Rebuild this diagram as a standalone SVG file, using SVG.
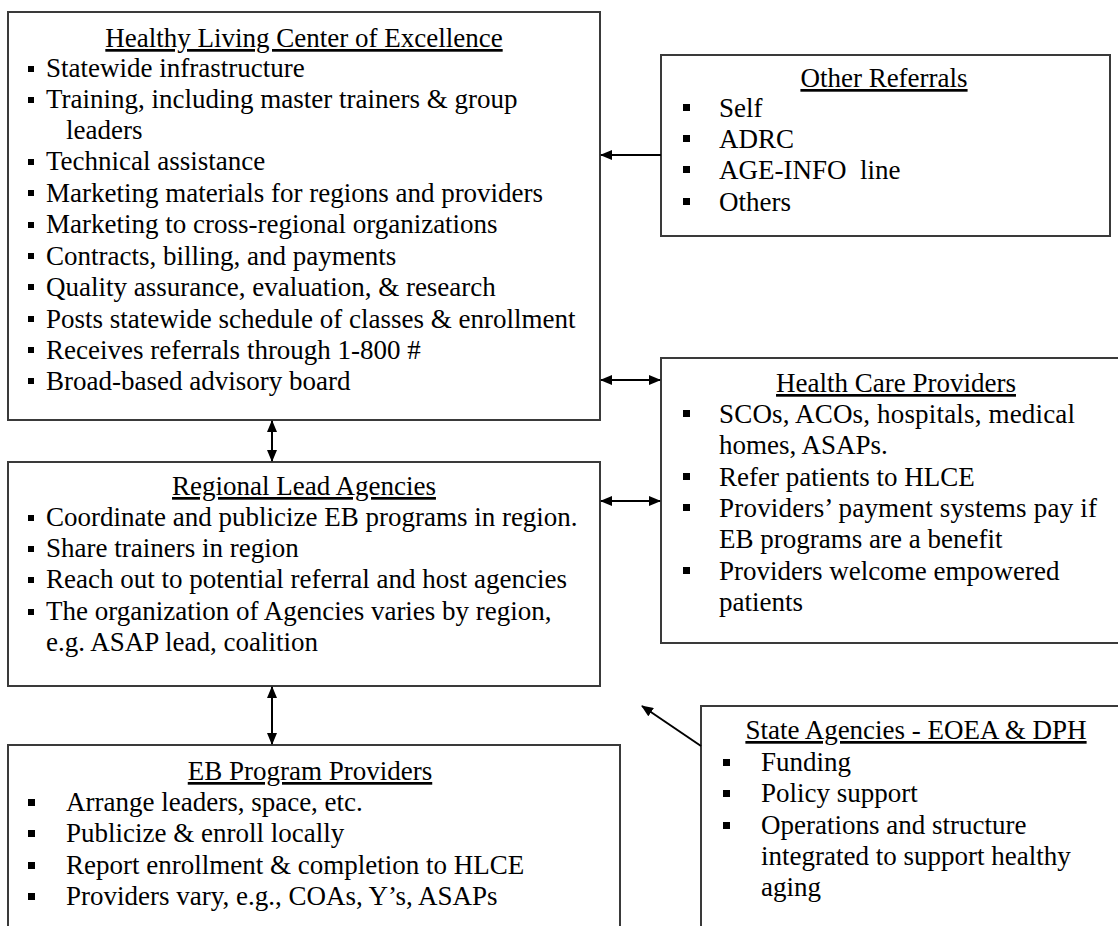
<svg xmlns="http://www.w3.org/2000/svg" width="1118" height="926" viewBox="0 0 1118 926">
<style>
.box{fill:#fff;stroke:#3a3a3a;stroke-width:2}
text{font-family:"Liberation Serif","Times New Roman",serif;font-size:27px;fill:#000}
.title{text-anchor:middle;text-decoration:underline}
.b{fill:#000}
.con{stroke:#000;stroke-width:2;fill:none}
</style>
<defs>
<marker id="ah" viewBox="0 0 12 10" refX="11" refY="5" markerWidth="12" markerHeight="10" markerUnits="userSpaceOnUse" orient="auto-start-reverse">
<path d="M0,0 L12,5 L0,10 z" fill="#000"/>
</marker>
</defs>
<rect width="1118" height="926" fill="#fff"/>

<g id="hlce">
<rect class="box" x="8" y="12" width="592" height="408"/>
<text class="title" x="304" y="47">Healthy Living Center of Excellence</text>
<g class="b">
<rect x="28" y="66" width="6" height="6"/><rect x="28" y="97" width="6" height="6"/><rect x="28" y="159" width="6" height="6"/><rect x="28" y="190" width="6" height="6"/><rect x="28" y="222" width="6" height="6"/><rect x="28" y="253" width="6" height="6"/><rect x="28" y="284" width="6" height="6"/><rect x="28" y="316" width="6" height="6"/><rect x="28" y="347" width="6" height="6"/><rect x="28" y="378" width="6" height="6"/>
</g>
<text x="46" y="77">Statewide infrastructure</text>
<text x="46" y="108">Training, including master trainers &amp; group</text>
<text x="66" y="139">leaders</text>
<text x="46" y="170">Technical assistance</text>
<text x="46" y="202">Marketing materials for regions and providers</text>
<text x="46" y="233">Marketing to cross-regional organizations</text>
<text x="46" y="265">Contracts, billing, and payments</text>
<text x="46" y="296">Quality assurance, evaluation, &amp; research</text>
<text x="46" y="328">Posts statewide schedule of classes &amp; enrollment</text>
<text x="46" y="359">Receives referrals through 1-800 #</text>
<text x="46" y="390">Broad-based advisory board</text>
</g>

<g id="other-referrals">
<rect class="box" x="661" y="55" width="449" height="181"/>
<text class="title" x="884" y="87">Other Referrals</text>
<g class="b">
<rect x="683" y="104" width="7" height="7"/><rect x="683" y="135" width="7" height="7"/><rect x="683" y="166" width="7" height="7"/><rect x="683" y="198" width="7" height="7"/>
</g>
<text x="719" y="117">Self</text>
<text x="719" y="148">ADRC</text>
<text x="719" y="179" xml:space="preserve">AGE-INFO  line</text>
<text x="719" y="211">Others</text>
</g>

<g id="health-care-providers">
<rect class="box" x="661" y="358" width="470" height="285"/>
<text class="title" x="896" y="392">Health Care Providers</text>
<g class="b">
<rect x="683" y="410" width="7" height="7"/><rect x="683" y="473" width="7" height="7"/><rect x="683" y="504" width="7" height="7"/><rect x="683" y="567" width="7" height="7"/>
</g>
<text x="719" y="423" textLength="356" lengthAdjust="spacing">SCOs, ACOs, hospitals, medical</text>
<text x="719" y="454">homes, ASAPs.</text>
<text x="719" y="486">Refer patients to HLCE</text>
<text x="719" y="517" textLength="378" lengthAdjust="spacing">Providers’ payment systems pay if</text>
<text x="719" y="548">EB programs are a benefit</text>
<text x="719" y="580">Providers welcome empowered</text>
<text x="719" y="611">patients</text>
</g>

<g id="regional-lead-agencies">
<rect class="box" x="8" y="462" width="592" height="224"/>
<text class="title" x="304" y="495">Regional Lead Agencies</text>
<g class="b">
<rect x="28" y="515" width="6" height="6"/><rect x="28" y="546" width="6" height="6"/><rect x="28" y="577" width="6" height="6"/><rect x="28" y="609" width="6" height="6"/>
</g>
<text x="46" y="526">Coordinate and publicize EB programs in region.</text>
<text x="46" y="557">Share trainers in region</text>
<text x="46" y="588">Reach out to potential referral and host agencies</text>
<text x="46" y="620">The organization of Agencies varies by region,</text>
<text x="46" y="651">e.g. ASAP lead, coalition</text>
</g>

<g id="eb-program-providers">
<rect class="box" x="8" y="745" width="612" height="200"/>
<text class="title" x="310" y="780">EB Program Providers</text>
<g class="b">
<rect x="28" y="799" width="7" height="7"/><rect x="28" y="830" width="7" height="7"/><rect x="28" y="862" width="7" height="7"/><rect x="28" y="893" width="7" height="7"/>
</g>
<text x="66" y="811">Arrange leaders, space, etc.</text>
<text x="66" y="842">Publicize &amp; enroll locally</text>
<text x="66" y="874">Report enrollment &amp; completion to HLCE</text>
<text x="66" y="905">Providers vary, e.g., COAs, Y’s, ASAPs</text>
</g>

<g id="state-agencies">
<rect class="box" x="701" y="706" width="430" height="240"/>
<text class="title" x="916" y="739">State Agencies - EOEA &amp; DPH</text>
<g class="b">
<rect x="723" y="759" width="7" height="7"/><rect x="723" y="790" width="7" height="7"/><rect x="723" y="822" width="7" height="7"/>
</g>
<text x="761" y="771">Funding</text>
<text x="761" y="802">Policy support</text>
<text x="761" y="834">Operations and structure</text>
<text x="761" y="865">integrated to support healthy</text>
<text x="761" y="896">aging</text>
</g>

<g id="connectors">
<line class="con" x1="661" y1="155" x2="601" y2="155" marker-end="url(#ah)"/>
<line class="con" x1="601" y1="380" x2="660" y2="380" marker-start="url(#ah)" marker-end="url(#ah)"/>
<line class="con" x1="601" y1="501" x2="660" y2="501" marker-start="url(#ah)" marker-end="url(#ah)"/>
<line class="con" x1="272" y1="421" x2="272" y2="461" marker-start="url(#ah)" marker-end="url(#ah)"/>
<line class="con" x1="272" y1="687" x2="272" y2="744" marker-start="url(#ah)" marker-end="url(#ah)"/>
<line class="con" x1="701" y1="746" x2="642" y2="706" marker-end="url(#ah)"/>
</g>
</svg>
